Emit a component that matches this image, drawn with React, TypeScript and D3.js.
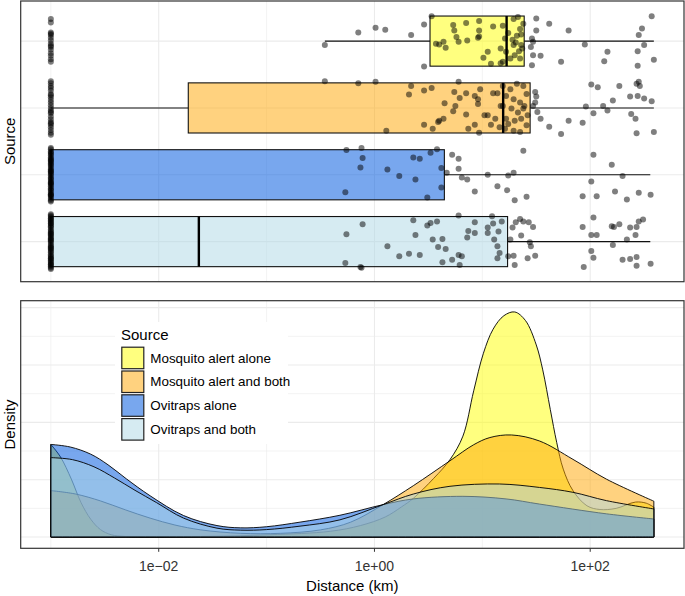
import React from 'react';
import * as d3 from 'd3';

// ---------------- data ----------------
const categories = ['Mosquito alert alone', 'Mosquito alert and both', 'Ovitraps alone', 'Ovitraps and both'];
const fillColors = ['#FFFF00', '#FFA500', '#0058DE', '#ADD8E6'];
const fillAlphas = [0.5, 0.5, 0.53, 0.5];

// box statistics, log10(km)
const boxLowerWhisker = [-0.46, -3.0, -3.0, -3.0];
const boxQ1 = [0.515, -1.726, -3.0, -3.0];
const boxMedian = [1.225, 1.193, -3.0, -1.628];
const boxQ3 = [1.388, 1.443, 0.648, 1.234];
const boxUpperWhisker = [2.59, 2.59, 2.557, 2.557];

// jittered points: [log10(km), vertical jitter in category units]
const zeroDistance = -3.0;
const mosquitoAloneZeroJitter = [0.33, 0.28, 0.13, 0.09, 0.05, 0.01, -0.04, -0.09, -0.13, -0.18, -0.22, -0.27, -0.31, 0.11, -0.07];
const mosquitoBothZeroJitter = [0.40, 0.37, 0.33, 0.30, 0.26, 0.21, 0.16, 0.12, 0.08, 0.04, 0.0, -0.04, -0.08, -0.13, -0.17, -0.21, -0.25, -0.29, -0.33, -0.37, -0.40, 0.19, -0.06, -0.23];
const ovitrapsAloneZeroJitter = [0.40, 0.38, 0.35, 0.33, 0.31, 0.29, 0.26, 0.24, 0.22, 0.19, 0.17, 0.15, 0.13, 0.10, 0.08, 0.06, 0.03, 0.01, -0.01, -0.04, -0.06, -0.08, -0.11, -0.13, -0.15, -0.17, -0.20, -0.22, -0.24, -0.27, -0.29, -0.31, -0.33, -0.36, -0.38, -0.40, 0.21, -0.12, 0.05, -0.30];
const ovitrapsBothZeroJitter = [0.41, 0.39, 0.37, 0.34, 0.32, 0.30, 0.28, 0.25, 0.23, 0.21, 0.18, 0.16, 0.14, 0.11, 0.09, 0.07, 0.05, 0.02, 0.00, -0.02, -0.05, -0.07, -0.09, -0.12, -0.14, -0.16, -0.19, -0.21, -0.23, -0.25, -0.28, -0.30, -0.32, -0.35, -0.37, -0.39, -0.41, 0.27, -0.10, 0.12, -0.26, 0.35, -0.34, 0.03];

const mosquitoAlonePoints = [
  [-0.46, -0.06], [-0.15, 0.13], [0.01, 0.20], [0.10, 0.17], [0.34, 0.09], [0.46, 0.25], [0.46, -0.38], [0.53, 0.37],
  [0.73, 0.24], [0.74, 0.16], [0.85, 0.27], [0.97, 0.30], [0.97, 0.16], [0.96, 0.05], [0.97, 0.07], [1.10, 0.22],
  [0.57, -0.04], [0.64, -0.01], [0.66, -0.10], [0.60, -0.05], [0.76, 0.06], [0.78, -0.01], [0.86, 0.01], [1.05, -0.16],
  [1.01, -0.25], [1.17, -0.11], [1.08, -0.34], [1.17, -0.33], [1.19, 0.23], [1.21, 0.04], [1.29, 0.33], [1.32, 0.08],
  [1.33, 0.36], [1.35, 0.18], [1.36, -0.06], [1.37, -0.11], [1.30, -0.21], [1.26, -0.26], [1.22, -0.16], [1.19, -0.31],
  [1.35, -0.26], [1.38, 0.26], [1.29, -0.06], [1.24, 0.12], [1.31, -0.02], [1.36, 0.10], [1.28, 0.02], [1.34, -0.15],
  [1.50, 0.34], [1.50, 0.16], [1.46, 0.04], [1.47, -0.01], [1.45, -0.09], [1.47, -0.21], [1.46, -0.36], [1.54, -0.22],
  [1.62, 0.26], [1.80, 0.16], [1.73, -0.31], [1.95, -0.05], [2.16, -0.16], [2.13, -0.30], [2.57, 0.37], [2.48, 0.19],
  [2.45, 0.09], [2.50, -0.06], [2.44, -0.15], [2.59, -0.28], [2.44, -0.37],
];
const mosquitoBothPoints = [
  [-0.46, 0.40], [-0.15, 0.37], [0.01, 0.39], [0.11, -0.34], [0.34, 0.33], [0.32, 0.20], [0.46, 0.26], [0.53, 0.30],
  [0.46, -0.25], [0.54, -0.31], [0.59, -0.21], [0.60, -0.19], [0.64, -0.16], [0.65, 0.07], [0.73, -0.05], [0.75, 0.03],
  [0.74, 0.24], [0.78, 0.39], [0.79, 0.15], [0.85, 0.22], [0.85, -0.10], [0.87, -0.31], [0.93, -0.25], [0.93, 0.18],
  [0.96, 0.13], [0.96, 0.06], [0.98, 0.28], [0.97, -0.37], [1.02, -0.11], [1.05, -0.11], [1.10, 0.22], [1.14, 0.22],
  [1.12, -0.16], [1.08, -0.25], [1.16, -0.29], [1.17, 0.03], [1.19, 0.33], [1.26, 0.28], [1.32, 0.36], [1.38, 0.33],
  [1.22, 0.18], [1.29, 0.13], [1.35, 0.08], [1.41, 0.21], [1.19, 0.03], [1.27, -0.01], [1.33, -0.07], [1.39, 0.03],
  [1.22, -0.16], [1.30, -0.19], [1.36, -0.16], [1.42, -0.11], [1.21, -0.31], [1.29, -0.34], [1.35, -0.36], [1.41, -0.26],
  [1.24, -0.24], [1.38, -0.01], [1.49, 0.24], [1.50, 0.17], [1.49, 0.08], [1.47, 0.03], [1.51, -0.06], [1.54, -0.16],
  [1.62, -0.28], [1.73, -0.39], [1.80, -0.19], [1.93, -0.22], [2.01, 0.35], [2.07, 0.31], [1.96, 0.02], [2.03, -0.08],
  [2.12, 0.03], [2.16, -0.04], [2.21, 0.11], [2.27, 0.33], [2.38, -0.09], [2.42, -0.16], [2.37, 0.17], [2.43, 0.36],
  [2.46, 0.33], [2.44, 0.18], [2.50, 0.14], [2.57, 0.10], [2.43, -0.38], [2.59, -0.36], [2.45, 0.39],
];
const ovitrapsAlonePoints = [
  [-0.26, 0.37], [-0.12, 0.40], [-0.11, 0.25], [-0.13, 0.11], [-0.27, -0.26], [0.12, 0.08], [0.23, -0.02], [0.36, 0.26],
  [0.42, 0.24], [0.38, -0.07], [0.52, 0.33], [0.58, 0.38], [0.62, 0.10], [0.62, -0.19], [0.49, -0.34], [0.67, 0.03],
  [0.72, 0.30], [0.78, 0.24], [0.78, 0.09], [0.81, -0.04], [0.86, -0.07], [0.93, -0.25], [1.05, 0.00], [1.14, -0.17],
  [1.38, 0.36], [1.29, 0.03], [1.24, -0.01], [1.23, -0.23], [1.30, -0.38], [1.41, -0.33], [2.03, 0.30], [2.20, 0.15],
  [2.30, -0.02], [2.01, -0.10], [1.93, -0.32], [2.06, -0.32], [2.23, -0.25], [2.34, -0.37], [2.45, -0.27], [2.56, -0.30],
];
const ovitrapsBothPoints = [
  [-0.11, 0.26], [-0.26, 0.11], [-0.27, -0.32], [-0.13, -0.38], [-0.12, -0.39], [0.12, -0.07], [0.23, -0.22], [0.32, -0.18],
  [0.36, 0.32], [0.38, 0.10], [0.42, -0.20], [0.49, 0.24], [0.52, 0.28], [0.58, 0.30], [0.54, 0.03], [0.63, 0.04],
  [0.59, -0.08], [0.66, -0.11], [0.63, -0.31], [0.72, -0.27], [0.78, 0.39], [0.78, -0.20], [0.81, -0.22], [0.79, -0.35],
  [0.86, 0.06], [0.87, 0.16], [0.93, 0.29], [0.93, 0.13], [1.05, 0.21], [1.05, 0.13], [1.09, 0.38], [1.10, 0.27],
  [1.11, 0.03], [1.15, 0.15], [1.14, -0.07], [1.16, -0.17], [1.14, -0.25], [1.18, 0.30], [1.28, 0.21], [1.31, 0.29],
  [1.35, 0.34], [1.38, 0.30], [1.43, 0.29], [1.47, 0.22], [1.36, 0.09], [1.26, 0.03], [1.24, -0.22], [1.29, -0.21],
  [1.44, -0.01], [1.45, -0.07], [1.42, -0.25], [1.49, -0.21], [1.30, -0.35], [1.93, 0.22], [2.03, 0.36], [2.01, 0.10],
  [2.06, 0.10], [2.01, -0.14], [2.03, -0.24], [1.94, -0.38], [2.20, 0.23], [2.22, 0.22], [2.27, 0.26], [2.21, -0.05],
  [2.34, 0.03], [2.37, 0.21], [2.42, 0.10], [2.43, 0.22], [2.45, 0.30], [2.49, 0.33], [2.30, -0.27], [2.37, -0.26],
  [2.43, -0.23], [2.43, -0.36], [2.56, -0.33],
];

// density curves: [log10(km), density]
const mosquitoAloneDensity = [
  [-3.0, 0.323], [-2.91, 0.279], [-2.81, 0.202], [-2.72, 0.12], [-2.63, 0.062], [-2.54, 0.026], [-2.44, 0.008],
  [-2.31, 0.002], [-1.61, 0.002], [-0.97, 0.008], [-0.41, 0.02], [-0.13, 0.04], [0.10, 0.07], [0.25, 0.105],
  [0.36, 0.135], [0.55, 0.205], [0.70, 0.27], [0.82, 0.352], [0.92, 0.51], [1.01, 0.641], [1.10, 0.725],
  [1.20, 0.772], [1.30, 0.785], [1.40, 0.755], [1.50, 0.67], [1.56, 0.583], [1.63, 0.445], [1.69, 0.329],
  [1.75, 0.237], [1.84, 0.162], [1.97, 0.109], [2.09, 0.096], [2.24, 0.1], [2.42, 0.122], [2.52, 0.118], [2.59, 0.104],
];
const mosquitoBothDensity = [
  [-3.0, 0.162], [-2.77, 0.150], [-2.54, 0.126], [-2.31, 0.095], [-2.08, 0.066], [-1.85, 0.042], [-1.61, 0.025],
  [-1.24, 0.013], [-0.87, 0.013], [-0.50, 0.025], [-0.22, 0.052], [0.08, 0.113], [0.36, 0.179], [0.70, 0.266],
  [0.92, 0.322], [1.07, 0.347], [1.27, 0.356], [1.53, 0.335], [1.84, 0.271], [2.15, 0.202], [2.59, 0.125],
];
const ovitrapsAloneDensity = [
  [-3.0, 0.323], [-2.82, 0.314], [-2.63, 0.289], [-2.47, 0.252], [-2.30, 0.203], [-2.08, 0.144],
  [-1.77, 0.075], [-1.46, 0.04], [-1.24, 0.032], [-1.0, 0.036], [-0.69, 0.052], [-0.32, 0.076], [0.08, 0.113],
  [0.36, 0.133], [0.82, 0.142], [1.22, 0.133], [1.53, 0.115], [2.15, 0.081], [2.59, 0.063],
];
const ovitrapsBothDensity = [
  [-3.0, 0.277], [-2.80, 0.270], [-2.60, 0.245], [-2.41, 0.206], [-2.22, 0.163], [-2.02, 0.12], [-1.77, 0.066],
  [-1.46, 0.031], [-1.24, 0.024], [-1.0, 0.026], [-0.69, 0.038], [-0.32, 0.06], [0.08, 0.113], [0.36, 0.150],
  [0.70, 0.177], [1.16, 0.185], [1.53, 0.173], [1.84, 0.156], [2.15, 0.127], [2.59, 0.098],
];

const xTickValues = [-2, 0, 2];
const xTickLabels = ['1e\u221202', '1e+00', '1e+02'];
const xMinorValues = [-3, -1, 1];
const densityMajor = [0, 0.2, 0.4, 0.6, 0.8];
const densityMinor = [0.1, 0.3, 0.5, 0.7];

const pointSets = [mosquitoAlonePoints, mosquitoBothPoints, ovitrapsAlonePoints, ovitrapsBothPoints];
const zeroSets = [mosquitoAloneZeroJitter, mosquitoBothZeroJitter, ovitrapsAloneZeroJitter, ovitrapsBothZeroJitter];
const densitySets = [mosquitoAloneDensity, mosquitoBothDensity, ovitrapsAloneDensity, ovitrapsBothDensity];

// ---------------- layout ----------------
const W = 685, H = 596;
const PL = 20.7, PR = 684;
const T1 = 1, B1 = 281.7;
const T2 = 300.7, B2 = 548.3;
const FONT = '"Liberation Sans", Arial, Helvetica, sans-serif';

const rgba = (hex: string, a: number) => {
  const c = d3.rgb(hex);
  return `rgba(${c.r},${c.g},${c.b},${a})`;
};

export default function App() {
  const allX = [zeroDistance, ...boxUpperWhisker, ...densitySets.flat().map((d) => d[0])];
  const [xMin, xMax] = d3.extent(allX) as [number, number];
  const xPad = (xMax - xMin) * 0.05;
  const x = d3.scaleLinear().domain([xMin - xPad, xMax + xPad]).range([PL, PR]);

  const yCat = d3.scalePoint<string>().domain(categories).range([T1, B1]).padding(0.6);
  const step = yCat.step();

  const dMax = d3.max(densitySets.flat(), (d) => d[1]) as number;
  const yD = d3.scaleLinear().domain([-0.05 * dMax, dMax * 1.05]).range([B2, T2]);

  const area = d3
    .area<number[]>()
    .x((d) => x(d[0]))
    .y0(yD(0))
    .y1((d) => yD(Math.max(0, d[1])))
    .curve(d3.curveCatmullRom.alpha(0.5));

  const grid = '#EBEBEB';
  const halfBox = step * 0.375;

  return (
    <svg width={W} height={H} style={{ position: 'absolute', left: 0, top: 0, background: '#fff' }} fontFamily={FONT}>
      <rect x={0} y={0} width={W} height={H} fill="#fff" />
      {/* ---------- top panel ---------- */}
      <g>
        {xMinorValues.map((v) => (
          <line key={'tm' + v} x1={x(v)} x2={x(v)} y1={T1} y2={B1} stroke={grid} strokeWidth={0.6} />
        ))}
        {xTickValues.map((v) => (
          <line key={'tM' + v} x1={x(v)} x2={x(v)} y1={T1} y2={B1} stroke={grid} strokeWidth={1.1} />
        ))}
        {categories.map((c) => (
          <line key={'tc' + c} x1={PL} x2={PR} y1={yCat(c)} y2={yCat(c)} stroke={grid} strokeWidth={1.1} />
        ))}
        {categories.map((c, i) => {
          const cy = yCat(c) as number;
          return (
            <g key={'box' + c}>
              <line x1={x(boxQ3[i])} x2={x(boxUpperWhisker[i])} y1={cy} y2={cy} stroke="#111" strokeWidth={1.1} />
              <line x1={x(boxLowerWhisker[i])} x2={x(boxQ1[i])} y1={cy} y2={cy} stroke="#111" strokeWidth={1.1} />
              <rect
                x={x(boxQ1[i])}
                y={cy - halfBox}
                width={x(boxQ3[i]) - x(boxQ1[i])}
                height={halfBox * 2}
                fill={rgba(fillColors[i], fillAlphas[i])}
                stroke="#111"
                strokeWidth={1.1}
              />
              <line x1={x(boxMedian[i])} x2={x(boxMedian[i])} y1={cy - halfBox} y2={cy + halfBox} stroke="#000" strokeWidth={2.4} />
            </g>
          );
        })}
        {categories.map((c, i) => {
          const cy = yCat(c) as number;
          return (
            <g key={'pts' + c}>
              {zeroSets[i].map((j, k) => (
                <circle key={'z' + k} cx={x(zeroDistance)} cy={cy - j * step} r={3} fill="#000" fillOpacity={0.5} />
              ))}
              {pointSets[i].map((p, k) => (
                <circle key={'p' + k} cx={x(p[0])} cy={cy - p[1] * step} r={3} fill="#000" fillOpacity={0.5} />
              ))}
            </g>
          );
        })}
        <rect x={PL} y={T1} width={PR - PL} height={B1 - T1} fill="none" stroke="#333" strokeWidth={1.2} />
        <text transform={`translate(15,${(T1 + B1) / 2}) rotate(-90)`} textAnchor="middle" fontSize={15} fill="#000">
          Source
        </text>
      </g>

      {/* ---------- bottom panel ---------- */}
      <g>
        {xMinorValues.map((v) => (
          <line key={'bm' + v} x1={x(v)} x2={x(v)} y1={T2} y2={B2} stroke={grid} strokeWidth={0.6} />
        ))}
        {densityMinor.map((v) => (
          <line key={'bdm' + v} x1={PL} x2={PR} y1={yD(v)} y2={yD(v)} stroke={grid} strokeWidth={0.6} />
        ))}
        {xTickValues.map((v) => (
          <line key={'bM' + v} x1={x(v)} x2={x(v)} y1={T2} y2={B2} stroke={grid} strokeWidth={1.1} />
        ))}
        {densityMajor.map((v) => (
          <line key={'bdM' + v} x1={PL} x2={PR} y1={yD(v)} y2={yD(v)} stroke={grid} strokeWidth={1.1} />
        ))}
        {densitySets.map((s, i) => (
          <g key={'dens' + i}>
            <path d={area(s) as string} fill={rgba(fillColors[i], fillAlphas[i])} stroke="none" />
            <path d={area(s) as string} fill="none" stroke="#000" strokeWidth={0.9} strokeLinejoin="round" />
          </g>
        ))}
        {/* legend */}
        <g>
          <rect x={115} y={322} width={173} height={122} fill="#fff" />
          <text x={121} y={339.5} fontSize={15} fill="#000">
            Source
          </text>
          {categories.map((c, i) => {
            const top = 346.7 + i * 23.8;
            return (
              <g key={'lg' + c}>
                <rect x={121.8} y={top + 0.5} width={22} height={21.5} fill={rgba(fillColors[i], fillAlphas[i])} stroke="#222" strokeWidth={1.2} />
                <text x={150.3} y={top + 15.8} fontSize={13.4} fill="#000">
                  {c}
                </text>
              </g>
            );
          })}
        </g>
        <rect x={PL} y={T2} width={PR - PL} height={B2 - T2} fill="none" stroke="#333" strokeWidth={1.2} />
        {xTickValues.map((v, i) => (
          <g key={'xt' + v}>
            <line x1={x(v)} x2={x(v)} y1={B2} y2={B2 + 3.5} stroke="#333" strokeWidth={1} />
            <text x={x(v)} y={571} textAnchor="middle" fontSize={14} fill="#333">
              {xTickLabels[i]}
            </text>
          </g>
        ))}
        <text x={(PL + PR) / 2} y={591} textAnchor="middle" fontSize={15} fill="#000">
          Distance (km)
        </text>
        <text transform={`translate(15,${(T2 + B2) / 2}) rotate(-90)`} textAnchor="middle" fontSize={15} fill="#000">
          Density
        </text>
      </g>
    </svg>
  );
}
